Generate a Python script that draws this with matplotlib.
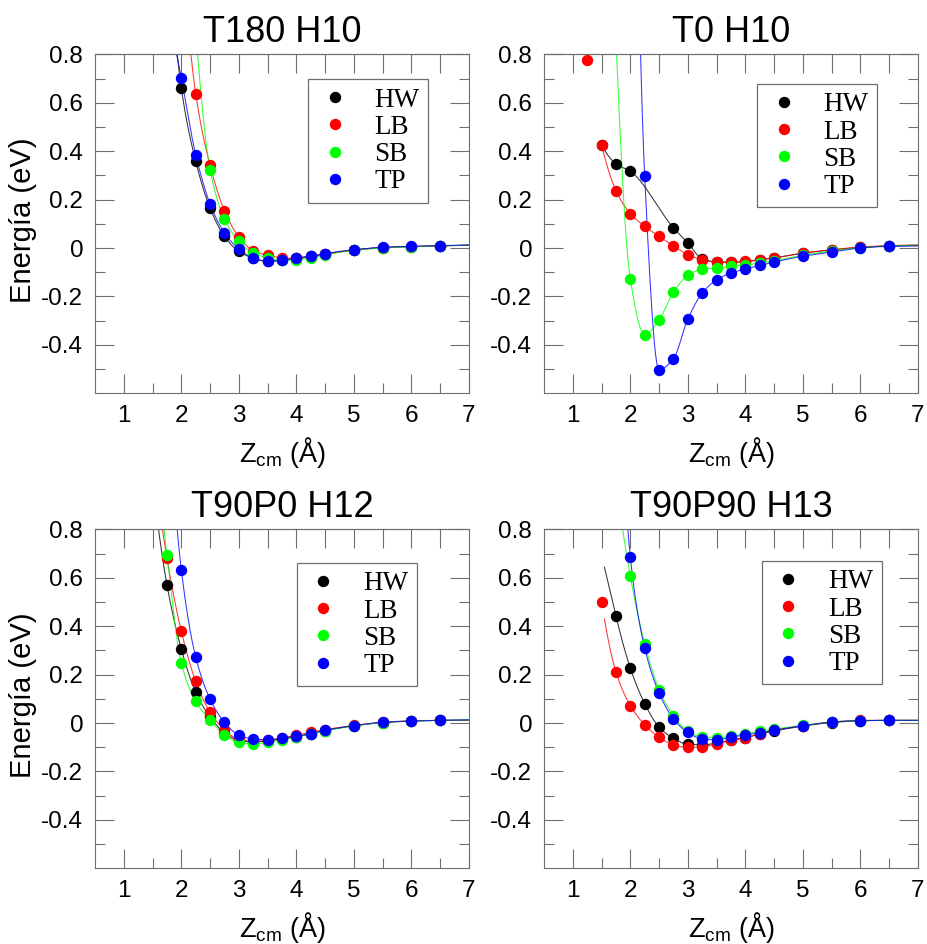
import numpy as np
import matplotlib
matplotlib.use("Agg")
import matplotlib.pyplot as plt
from matplotlib.lines import Line2D

plt.rcParams['font.family'] = ['Liberation Sans', 'DejaVu Sans']
plt.rcParams['mathtext.fontset'] = 'custom'
plt.rcParams['mathtext.rm'] = 'Liberation Sans'
plt.rcParams['mathtext.it'] = 'Liberation Sans:italic'

# ---------------- data ----------------
TITLES = ['T180 H10', 'T0 H10', 'T90P0 H12', 'T90P90 H13']
SERIES = ['HW', 'LB', 'SB', 'TP']
COLORS = ['#000000', '#ff0000', '#00ff00', '#0000ff']
XTICK_LABELS = ['1', '2', '3', '4', '5', '6', '7']
YTICK_LABELS = ['-0.4', '-0.2', '0', '0.2', '0.4', '0.6', '0.8']

# T180 H10
T180_X_HW = [1.75, 2.0, 2.25, 2.5, 2.75, 3.0, 3.25, 3.5, 3.75, 4.0, 4.25, 4.5, 5.0, 5.5, 6.0, 6.5]
T180_E_HW = [1.3, 0.661, 0.358, 0.165, 0.048, -0.014, -0.042, -0.055, -0.051, -0.042, -0.034, -0.024, -0.008, 0.002, 0.006, 0.009]
T180_X_LB = [2.0, 2.25, 2.5, 2.75, 3.0, 3.25, 3.5, 3.75, 4.0, 4.25, 4.5, 5.0, 5.5, 6.0, 6.5]
T180_E_LB = [1.25, 0.638, 0.341, 0.154, 0.045, -0.011, -0.030, -0.040, -0.043, -0.036, -0.026, -0.008, 0.002, 0.006, 0.009]
T180_X_SB = [2.25, 2.5, 2.75, 3.0, 3.25, 3.5, 3.75, 4.0, 4.25, 4.5, 5.0, 5.5, 6.0, 6.5]
T180_E_SB = [0.90, 0.324, 0.120, 0.028, -0.021, -0.041, -0.051, -0.048, -0.042, -0.028, -0.010, 0.000, 0.005, 0.009]
T180_X_TP = [1.75, 2.0, 2.25, 2.5, 2.75, 3.0, 3.25, 3.5, 3.75, 4.0, 4.25, 4.5, 5.0, 5.5, 6.0, 6.5]
T180_E_TP = [1.0, 0.702, 0.386, 0.182, 0.062, -0.004, -0.041, -0.055, -0.051, -0.041, -0.034, -0.023, -0.007, 0.003, 0.007, 0.010]

# T0 H10
T0_X_HW = [1.5, 1.75, 2.0, 2.75, 3.0, 3.25, 3.5, 3.75, 4.0, 4.25, 4.5, 5.0, 5.5, 6.0, 6.5]
T0_E_HW = [0.425, 0.347, 0.317, 0.083, 0.021, -0.045, -0.057, -0.058, -0.056, -0.049, -0.041, -0.021, -0.008, 0.003, 0.008]
T0_X_LB = [1.25, 1.5, 1.75, 2.0, 2.25, 2.5, 2.75, 3.0, 3.25, 3.5, 3.75, 4.0, 4.25, 4.5, 5.0, 5.5, 6.0, 6.5]
T0_E_LB = [0.778, 0.425, 0.237, 0.142, 0.090, 0.048, 0.010, -0.028, -0.048, -0.059, -0.059, -0.055, -0.048, -0.041, -0.021, -0.007, 0.004, 0.010]
T0_X_SB = [1.75, 2.0, 2.25, 2.5, 2.75, 3.0, 3.25, 3.5, 3.75, 4.0, 4.25, 4.5, 5.0, 5.5, 6.0, 6.5]
T0_E_SB = [0.86, -0.128, -0.358, -0.296, -0.183, -0.113, -0.087, -0.083, -0.076, -0.070, -0.062, -0.052, -0.030, -0.012, 0.001, 0.008]
T0_X_TP = [2.0, 2.25, 2.5, 2.75, 3.0, 3.25, 3.5, 3.75, 4.0, 4.25, 4.5, 5.0, 5.5, 6.0, 6.5]
T0_E_TP = [3.0, 0.296, -0.503, -0.457, -0.293, -0.186, -0.131, -0.103, -0.087, -0.072, -0.058, -0.034, -0.017, 0.000, 0.007]

# T90P0 H12
T90P0_X_HW = [1.5, 1.75, 2.0, 2.25, 2.5, 2.75, 3.0, 3.25, 3.5, 3.75, 4.0, 4.25, 4.5, 5.0, 5.5, 6.0, 6.5]
T90P0_E_HW = [1.0, 0.571, 0.306, 0.127, 0.025, -0.040, -0.072, -0.078, -0.074, -0.065, -0.056, -0.045, -0.031, -0.012, 0.002, 0.008, 0.011]
T90P0_X_LB = [1.5, 1.75, 2.0, 2.25, 2.5, 2.75, 3.0, 3.25, 3.5, 3.75, 4.0, 4.25, 4.5, 5.0, 5.5, 6.0, 6.5]
T90P0_E_LB = [1.1, 0.682, 0.379, 0.172, 0.044, -0.028, -0.068, -0.075, -0.072, -0.062, -0.050, -0.038, -0.027, -0.010, 0.003, 0.009, 0.011]
T90P0_X_SB = [1.5, 1.75, 2.0, 2.25, 2.5, 2.75, 3.0, 3.25, 3.5, 3.75, 4.0, 4.25, 4.5, 5.0, 5.5, 6.0, 6.5]
T90P0_E_SB = [1.25, 0.695, 0.248, 0.090, 0.011, -0.048, -0.080, -0.087, -0.080, -0.069, -0.057, -0.045, -0.032, -0.012, 0.002, 0.008, 0.011]
T90P0_X_TP = [1.75, 2.0, 2.25, 2.5, 2.75, 3.0, 3.25, 3.5, 3.75, 4.0, 4.25, 4.5, 5.0, 5.5, 6.0, 6.5]
T90P0_E_TP = [1.4, 0.633, 0.273, 0.099, 0.003, -0.050, -0.066, -0.069, -0.063, -0.055, -0.044, -0.030, -0.011, 0.003, 0.008, 0.011]

# T90P90 H13
T90P90_X_HW = [1.75, 2.0, 2.25, 2.5, 2.75, 3.0, 3.25, 3.5, 3.75, 4.0, 4.25, 4.5, 5.0, 5.5, 6.0, 6.5]
T90P90_E_HW = [0.443, 0.227, 0.080, -0.017, -0.063, -0.088, -0.090, -0.083, -0.070, -0.060, -0.046, -0.033, -0.013, 0.002, 0.009, 0.011]
T90P90_X_LB = [1.5, 1.75, 2.0, 2.25, 2.5, 2.75, 3.0, 3.25, 3.5, 3.75, 4.0, 4.25, 4.5, 5.0, 5.5, 6.0, 6.5]
T90P90_E_LB = [0.500, 0.211, 0.072, -0.007, -0.059, -0.090, -0.101, -0.098, -0.087, -0.072, -0.062, -0.044, -0.030, -0.011, 0.004, 0.011, 0.011]
T90P90_X_SB = [1.75, 2.0, 2.25, 2.5, 2.75, 3.0, 3.25, 3.5, 3.75, 4.0, 4.25, 4.5, 5.0, 5.5, 6.0, 6.5]
T90P90_E_SB = [1.0, 0.606, 0.328, 0.138, 0.030, -0.034, -0.058, -0.062, -0.055, -0.044, -0.034, -0.025, -0.010, 0.004, 0.010, 0.011]
T90P90_X_TP = [1.75, 2.0, 2.25, 2.5, 2.75, 3.0, 3.25, 3.5, 3.75, 4.0, 4.25, 4.5, 5.0, 5.5, 6.0, 6.5]
T90P90_E_TP = [1.8, 0.686, 0.310, 0.124, 0.017, -0.039, -0.066, -0.069, -0.059, -0.048, -0.041, -0.030, -0.011, 0.004, 0.010, 0.011]

PANELS = [
    [(T180_X_HW, T180_E_HW), (T180_X_LB, T180_E_LB), (T180_X_SB, T180_E_SB), (T180_X_TP, T180_E_TP)],
    [(T0_X_HW, T0_E_HW), (T0_X_LB, T0_E_LB), (T0_X_SB, T0_E_SB), (T0_X_TP, T0_E_TP)],
    [(T90P0_X_HW, T90P0_E_HW), (T90P0_X_LB, T90P0_E_LB), (T90P0_X_SB, T90P0_E_SB), (T90P0_X_TP, T90P0_E_TP)],
    [(T90P90_X_HW, T90P90_E_HW), (T90P90_X_LB, T90P90_E_LB), (T90P90_X_SB, T90P90_E_SB), (T90P90_X_TP, T90P90_E_TP)],
]

# where the fitted curve starts (default: first point)
CURVE_FROM = {(1, 'LB'): 1.5, (3, 'HW'): 1.55, (3, 'LB'): 1.55}
CURVE_TO = 7.0


# ---------------- helpers ----------------
def pchip_slopes(x, y):
    h = np.diff(x)
    d = np.diff(y) / h
    n = len(x)
    m = np.zeros(n)
    for k in range(1, n - 1):
        if d[k - 1] * d[k] > 0:
            w1 = 2 * h[k] + h[k - 1]
            w2 = h[k] + 2 * h[k - 1]
            m[k] = (w1 + w2) / (w1 / d[k - 1] + w2 / d[k])

    def end(h0, h1, d0, d1):
        mm = ((2 * h0 + h1) * d0 - h0 * d1) / (h0 + h1)
        if np.sign(mm) != np.sign(d0):
            mm = 0.0
        elif np.sign(d0) != np.sign(d1) and abs(mm) > abs(3 * d0):
            mm = 3 * d0
        return mm

    m[0] = end(h[0], h[1], d[0], d[1])
    m[-1] = end(h[-1], h[-2], d[-1], d[-2])
    return m


def pchip_eval(x, y, xq):
    x = np.asarray(x, float)
    y = np.asarray(y, float)
    m = pchip_slopes(x, y)
    out = np.empty_like(xq)
    lo = xq <= x[0]
    hi = xq >= x[-1]
    mid = ~(lo | hi)
    out[lo] = y[0] + m[0] * (xq[lo] - x[0])
    out[hi] = y[-1] + m[-1] * (xq[hi] - x[-1])
    t = xq[mid]
    k = np.clip(np.searchsorted(x, t) - 1, 0, len(x) - 2)
    h = x[k + 1] - x[k]
    s = (t - x[k]) / h
    h00 = 2 * s**3 - 3 * s**2 + 1
    h10 = s**3 - 2 * s**2 + s
    h01 = -2 * s**3 + 3 * s**2
    h11 = s**3 - s**2
    out[mid] = h00 * y[k] + h10 * h * m[k] + h01 * y[k + 1] + h11 * h * m[k + 1]
    return out


# ---------------- figure ----------------
W, H = 928, 944
fig = plt.figure(figsize=(W / 100, H / 100), dpi=100)

axw, axh = 374 / W, 339 / H
left_cols = [95 / W, 544 / W]
bottoms = [(H - 393.3) / H, (H - 868.3) / H]
positions = [(left_cols[0], bottoms[0]), (left_cols[1], bottoms[0]),
             (left_cols[0], bottoms[1]), (left_cols[1], bottoms[1])]
legend_anchor = [(0.57, 0.926), (0.57, 0.912), (0.54, 0.90), (0.583, 0.906)]

GRAY = '#6e6e6e'
for p in range(4):
    ax = fig.add_axes([positions[p][0], positions[p][1], axw, axh])
    ax.set_xlim(0.5, 7.0)
    ax.set_ylim(-0.6, 0.8)

    # curves
    for s, (xs, es) in enumerate(PANELS[p]):
        name = SERIES[s]
        x = np.asarray(xs, float)
        e = np.asarray(es, float)
        start = CURVE_FROM.get((p, name), x[0])
        sel = x >= start - 0.1
        xq = np.linspace(start, CURVE_TO, 800)
        yq = pchip_eval(x[sel], e[sel], xq)
        ax.plot(xq, yq, color=COLORS[s], lw=0.75, alpha=0.8, zorder=2)
    # points
    for s, (xs, es) in enumerate(PANELS[p]):
        ax.plot(xs, es, 'o', color=COLORS[s], ms=8.2, mec='none', zorder=3)

    # ticks
    ax.set_xticks(np.arange(1, 8, 1))
    ax.set_xticklabels(XTICK_LABELS)
    ax.set_xticks(np.arange(1.5, 7.0, 1.0), minor=True)
    ax.set_yticks(np.arange(-0.4, 0.81, 0.2))
    ax.set_yticklabels(YTICK_LABELS)
    ax.set_yticks(np.arange(-0.5, 0.75, 0.2), minor=True)
    ax.tick_params(which='both', direction='in', color=GRAY, width=0.8,
                   top=False, right=True, labelsize=17.5, pad=8.5)
    ax.tick_params(which='major', length=13.7)
    ax.tick_params(which='minor', length=7)
    for sp in ax.spines.values():
        sp.set_color(GRAY)
        sp.set_linewidth(0.8)

    sec = ax.secondary_xaxis('top')
    sec.set_xticks(np.arange(1.0, 7.0, 0.5))
    sec.tick_params(direction='in', length=13.7, width=0.8, color=GRAY,
                    labeltop=False)
    sec.spines['top'].set_color(GRAY)
    sec.spines['top'].set_linewidth(0.8)

    ax.set_title(TITLES[p], fontsize=26, pad=9)
    ax.set_xlabel('Z$_{\\rm cm}$ (Å)', fontsize=19.5)
    ax.xaxis.set_label_coords(0.5, -0.122)
    if p % 2 == 0:
        ax.set_ylabel('Energía (eV)', fontsize=21)
        ax.yaxis.set_label_coords(-0.155, 0.51)

    handles = [Line2D([], [], ls='none', marker='o', ms=8.2, mec='none',
                      color=COLORS[s]) for s in range(4)]
    leg = ax.legend(handles, SERIES, loc='upper left',
                    bbox_to_anchor=legend_anchor[p], borderaxespad=0,
                    frameon=True, fancybox=False, edgecolor=GRAY,
                    framealpha=1,
                    prop={'family': 'Liberation Serif', 'size': 19.5},
                    handlelength=1.35, handletextpad=0.8, borderpad=0.3,
                    labelspacing=0.085)
    leg.get_frame().set_linewidth(0.9)

fig.savefig('out.png', dpi=100)
